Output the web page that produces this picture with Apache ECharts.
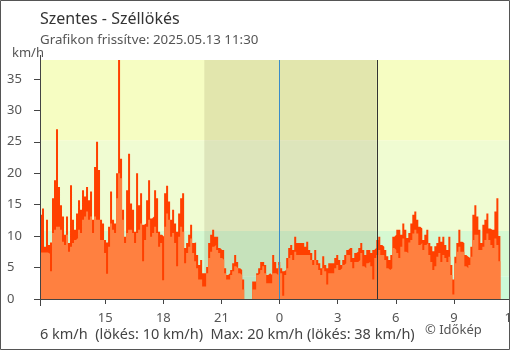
<!DOCTYPE html>
<html>
<head>
<meta charset="utf-8">
<script src="https://cdn.jsdelivr.net/npm/echarts@6/dist/echarts.min.js"></script>
<style>
  html, body { margin: 0; padding: 0; background: #fff; }
  #chart { width: 510px; height: 350px; }
</style>
</head>
<body>
<div id="chart"></div>
<script>
// Texts
const TITLE = 'Szentes - Széllökés';
const SUBTITLE = 'Grafikon frissítve: 2025.05.13 11:30';
const UNIT = 'km/h';
const FOOTER = '6 km/h  (lökés: 10 km/h)  Max: 20 km/h (lökés: 38 km/h)';
const CREDIT = '© Időkép';

// Time grid of the readings (minutes from midnight of the first day)
const START_MIN = 698;   // 11:38
const STEP_MIN = 6.2;

// Axis settings
const X_TICKS = [15, 18, 21, 24, 27, 30, 33, 36];
const Y_MAX = 38;
const Y_STEP = 5;

// Wind bands in km/h (1, 3 and 7 m/s)
const BAND_LIMITS = [0, 3.6, 10.8, 25.2, 38];
const BAND_COLORS = ['#ccfad8', '#d6f9d2', '#f0fcd2', '#f6fdc2'];

// Night period and markers (hours from midnight of the first day)
const SUNSET_H = 20 + 7 / 60;
const SUNRISE_H = 29 + 1 / 60;
const MIDNIGHT_H = 24;

// Gusts, km/h
const gust = [
  13.4, 14.4, 8.3, 12.6, 8.6, 9.0, 16.0, 18.9, 27.0, 17.8,
  14.9, 13.1, 10.2, 13.1, 8.9, 18.1, 12.6, 11.0, 13.6, 15.7,
  14.2, 17.3, 16.3, 17.8, 15.7, 17.1, 12.6, 21.0, 25.0, 20.5,
  12.6, 12.0, 9.4, 9.0, 11.5, 17.1, 12.6, 12.0, 20.0, 38.0,
  22.3, 14.2, 9.9, 17.3, 23.1, 15.2, 14.2, 10.7, 20.0, 14.9,
  16.8, 11.8, 12.0, 15.7, 18.9, 12.8, 13.1, 17.3, 16.0, 10.7,
  10.2, 9.9, 16.8, 18.0, 15.5, 12.6, 14.2, 12.0, 10.7, 13.6,
  16.0, 16.8, 8.1, 8.9, 10.2, 11.8, 8.9, 9.0, 7.0, 5.4,
  6.2, 4.1, 4.1, 5.1, 8.9, 10.2, 11.0, 9.9, 9.9, 8.1,
  7.8, 7.8, 4.9, 3.8, 4.1, 4.6, 5.7, 7.0, 5.9, 4.9,
  4.6, 3.1, 0, 0, 0, 0, 2.8, 2.8, 4.1, 4.9,
  5.9, 5.9, 5.4, 3.8, 4.1, 3.8, 7.0, 5.9, 4.9, 5.9,
  4.9, 4.4, 4.6, 6.5, 8.1, 8.6, 7.8, 9.9, 8.9, 8.9,
  8.9, 8.9, 8.3, 9.1, 7.8, 7.3, 6.2, 7.8, 6.2, 5.7,
  4.9, 6.8, 5.4, 4.9, 5.7, 5.7, 5.7, 6.5, 7.0, 6.2,
  5.4, 6.2, 7.0, 7.8, 8.1, 8.1, 6.5, 7.3, 7.5, 8.1,
  8.9, 7.8, 7.0, 7.8, 7.8, 7.3, 7.8, 8.1, 9.4, 9.9,
  8.6, 8.3, 7.8, 6.8, 6.2, 7.0, 9.9, 10.2, 11.0, 11.0,
  10.2, 12.0, 11.0, 9.7, 10.5, 12.0, 13.4, 13.9, 12.6, 11.5,
  11.2, 9.4, 10.2, 11.0, 8.9, 8.4, 7.6, 8.4, 8.9, 9.9,
  9.1, 9.9, 8.6, 7.8, 9.9, 5.4, 3.1, 6.7, 8.9, 11.0,
  9.1, 8.9, 7.0, 6.7, 6.5, 8.3, 13.4, 14.9, 13.1, 11.0,
  8.9, 11.8, 12.6, 13.6, 11.2, 11.0, 11.0, 13.9, 16.0, 10.0
];

// Average wind speed, km/h
const avg = [
  7.4, 7.4, 7.4, 7.4, 7.2, 4.4, 10.5, 11.0, 11.5, 11.5,
  11.0, 9.1, 8.6, 10.2, 7.5, 8.3, 8.9, 9.4, 9.7, 11.0,
  10.5, 12.6, 13.1, 13.9, 12.6, 13.1, 10.5, 13.1, 12.6, 12.6,
  9.4, 9.4, 7.3, 4.0, 8.3, 12.0, 11.0, 10.5, 16.0, 20.0,
  19.2, 12.6, 8.9, 10.5, 11.0, 11.0, 10.5, 8.9, 10.5, 11.0,
  12.0, 6.0, 9.4, 11.5, 12.6, 9.9, 10.5, 11.5, 10.5, 8.3,
  8.9, 3.0, 11.5, 13.6, 12.6, 9.9, 10.5, 8.9, 5.2, 9.9,
  11.5, 10.7, 5.7, 7.3, 8.3, 9.6, 7.3, 6.0, 4.9, 3.1,
  3.1, 2.0, 2.0, 4.1, 6.5, 7.5, 8.3, 8.6, 7.8, 7.3,
  6.5, 6.2, 4.1, 3.1, 3.1, 3.8, 4.4, 5.2, 4.9, 4.1,
  3.8, 1.5, 0, 0, 0, 0, 1.5, 1.5, 3.8, 4.1,
  4.6, 5.2, 4.1, 2.5, 2.5, 2.5, 4.1, 4.1, 3.8, 5.4,
  4.1, 0.5, 3.8, 4.9, 6.5, 7.0, 6.2, 7.5, 7.0, 7.0,
  7.0, 7.0, 7.0, 7.0, 7.0, 6.2, 5.4, 6.2, 5.4, 4.6,
  3.8, 4.9, 4.4, 2.3, 4.1, 4.1, 4.1, 4.9, 5.4, 4.6,
  4.9, 5.4, 5.7, 7.0, 7.0, 5.9, 4.9, 5.9, 5.9, 6.2,
  7.3, 5.2, 4.9, 5.7, 5.9, 5.2, 3.1, 6.5, 7.0, 7.8,
  7.0, 7.0, 6.2, 4.9, 4.6, 4.9, 8.1, 7.8, 7.3, 6.5,
  8.3, 9.6, 7.5, 7.3, 9.0, 9.4, 10.4, 11.0, 10.4, 8.6,
  8.9, 7.8, 8.6, 8.9, 7.0, 5.9, 4.6, 5.2, 6.7, 7.3,
  5.9, 7.0, 6.5, 5.9, 6.7, 3.8, 0.7, 5.7, 7.5, 8.3,
  7.5, 7.5, 5.2, 4.9, 5.4, 6.7, 9.4, 10.2, 10.2, 7.8,
  7.8, 8.3, 9.4, 10.4, 9.4, 8.6, 8.1, 9.6, 8.6, 6.0
];

const FONT = 'Noto Sans';

// Each reading holds its value until the next one
function steps(values) {
  const pts = values.map((v, i) => [(START_MIN + i * STEP_MIN) / 60, v]);
  pts.push([(START_MIN + values.length * STEP_MIN) / 60, values[values.length - 1]]);
  return pts;
}

const bandAreas = BAND_COLORS.map((c, i) => [
  { yAxis: BAND_LIMITS[i], itemStyle: { color: c } },
  { yAxis: BAND_LIMITS[i + 1] }
]);

const chart = echarts.init(document.getElementById('chart'), null, { renderer: 'canvas' });

chart.setOption({
  animation: false,
  backgroundColor: '#ffffff',
  textStyle: { fontFamily: FONT },
  grid: { left: 40, right: -2, top: 60, bottom: 51, containLabel: false, outerBoundsMode: 'none' },
  xAxis: {
    type: 'value',
    min: START_MIN / 60,
    max: 36,
    splitLine: { show: false },
    axisLine: { show: true, onZero: false, lineStyle: { color: '#444', width: 1 } },
    axisTick: { show: true, length: 5, customValues: X_TICKS, lineStyle: { color: '#444' } },
    axisLabel: {
      customValues: X_TICKS,
      formatter: v => String(Math.round(v) % 24),
      color: '#555', fontSize: 13, fontFamily: FONT, margin: 13
    }
  },
  yAxis: [{
    type: 'value', min: 0, max: Y_MAX, interval: Y_STEP,
    splitLine: { show: false },
    axisLine: { show: false },
    axisTick: { show: true, length: 6, lineStyle: { color: '#444' } },
    axisLabel: {
      align: 'left', margin: 33, color: '#555', fontSize: 13, fontFamily: FONT,
      showMaxLabel: false
    }
  }, {
    type: 'value', min: 0, max: Y_MAX, interval: Y_STEP, position: 'left',
    splitLine: { show: false },
    axisLine: { show: false },
    axisTick: { show: true, inside: true, length: 6, lineStyle: { color: '#444' } },
    axisLabel: { show: false }
  }],
  series: [
    {
      name: 'bands', type: 'line', data: [], z: 1, silent: true,
      markArea: { silent: true, data: bandAreas }
    },
    {
      name: 'night', type: 'line', data: [], z: 2, silent: true,
      markArea: {
        silent: true,
        data: [[{ xAxis: SUNSET_H, itemStyle: { color: 'rgba(90,80,40,0.13)' } }, { xAxis: SUNRISE_H }]]
      },
      markLine: {
        silent: true, symbol: 'none', label: { show: false },
        lineStyle: { color: '#333', width: 1, type: 'solid' },
        data: [{ xAxis: SUNRISE_H }]
      }
    },
    {
      name: 'Széllökés', type: 'line', step: 'end', z: 3,
      data: steps(gust),
      showSymbol: false, symbol: 'none',
      lineStyle: { width: 0 },
      areaStyle: { color: '#ff4000', opacity: 1 }
    },
    {
      name: 'Átlagszél', type: 'line', step: 'end', z: 4,
      data: steps(avg),
      showSymbol: false, symbol: 'none',
      lineStyle: { width: 0 },
      areaStyle: { color: '#ff8040', opacity: 1 }
    },
    {
      name: 'midnight', type: 'line', data: [], z: 5, silent: true,
      markLine: {
        silent: true, symbol: 'none', label: { show: false },
        lineStyle: { color: '#3a8cc8', width: 1, type: 'solid' },
        data: [{ xAxis: MIDNIGHT_H }]
      }
    }
  ],
  graphic: [
    { type: 'text', left: 40, top: 11, style: { text: TITLE, font: '16px ' + FONT, fill: '#333' } },
    { type: 'text', left: 40, top: 34, style: { text: SUBTITLE, font: '13.3px ' + FONT, fill: '#555' } },
    { type: 'text', left: 12, top: 47, style: { text: UNIT, font: '13px ' + FONT, fill: '#555' } },
    { type: 'text', left: 40, top: 327, style: { text: FOOTER, font: '14.5px ' + FONT, fill: '#444' } },
    { type: 'text', left: 425, top: 324, style: { text: CREDIT, font: '13px ' + FONT, fill: '#555' } },
    { type: 'line', shape: { x1: 40.5, y1: 55, x2: 40.5, y2: 306 }, style: { stroke: '#444', lineWidth: 1 }, z: 100 },
    { type: 'rect', shape: { x: 0.5, y: 0.5, width: 509, height: 349 }, style: { fill: 'none', stroke: '#555', lineWidth: 1 }, z: 100 }
  ]
});
</script>
</body>
</html>
